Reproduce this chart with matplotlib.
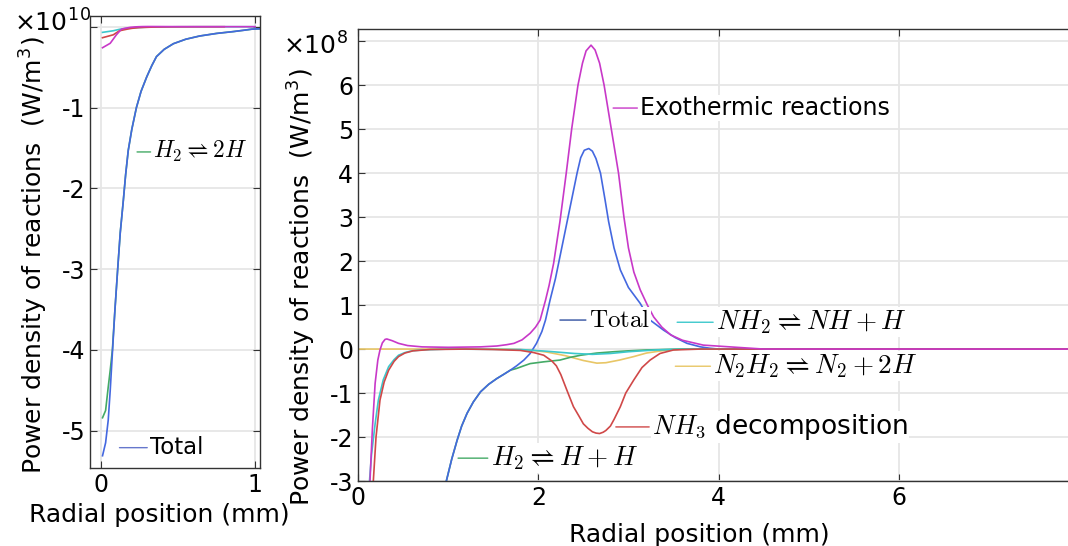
import matplotlib
matplotlib.use('Agg')
import matplotlib.pyplot as plt
import numpy as np

# ---------------------------------------------
# データ (単位: 1e8 W/m^3, x: mm)
# ---------------------------------------------
total_x = [0.01, 0.03, 0.047, 0.06, 0.074, 0.09, 0.108, 0.125, 0.145, 0.16, 0.177, 0.2, 0.23, 0.26,
           0.297, 0.33, 0.36, 0.41, 0.47, 0.55, 0.64, 0.75, 0.86, 0.93, 0.98, 1.04, 1.1, 1.15, 1.21,
           1.28, 1.36, 1.45, 1.54, 1.62, 1.69, 1.76, 1.84, 1.91, 1.98, 2.04, 2.08, 2.13, 2.19, 2.25,
           2.31, 2.37, 2.43, 2.47, 2.51, 2.56, 2.6, 2.64, 2.69, 2.74, 2.78, 2.84, 2.91, 3.0, 3.13,
           3.24, 3.39, 3.52, 3.65, 3.8, 3.9, 4.0, 7.9]
total_y = [-531, -515, -487, -450, -404, -352, -301, -255, -215, -183, -153, -127, -100, -80,
           -62, -48, -37, -28, -21, -15.5, -11.5, -8.3, -6, -4.3, -3, -2.5, -2.07, -1.75, -1.46,
           -1.2, -0.97, -0.8, -0.67, -0.57, -0.48, -0.38, -0.25, -0.1, 0.13, 0.4, 0.66, 1.11, 1.6, 2.2,
           2.8, 3.4, 4.0, 4.35, 4.52, 4.56, 4.5, 4.33, 4.0, 3.4, 2.9, 2.3, 1.8, 1.4, 1.04,
           0.66, 0.43, 0.26, 0.13, 0.05, 0.02, 0.0, 0.0]

h2_x = [0.01, 0.03, 0.047, 0.06, 0.074, 0.09, 0.108, 0.125, 0.145, 0.16, 0.177, 0.2, 0.23, 0.26,
        0.297, 0.33, 0.36, 0.41, 0.47, 0.55, 0.64, 0.75, 0.86, 0.93, 0.98, 1.04, 1.1, 1.15, 1.21,
        1.28, 1.36, 1.45, 1.54, 1.62, 1.69, 1.76, 1.84, 1.91, 2.06, 2.24, 2.35, 2.47, 2.65, 2.84, 3.0,
        3.2, 3.4, 3.6, 7.9]
h2_y = [-484, -475, -446, -425, -400, -352, -301, -255, -215, -183, -153, -127, -100, -80,
        -62, -48, -37, -28, -21, -15.5, -11.5, -8.3, -6, -4.3, -3, -2.5, -2.07, -1.75, -1.46,
        -1.2, -0.97, -0.8, -0.67, -0.57, -0.48, -0.44, -0.38, -0.33, -0.29, -0.25, -0.19, -0.14, -0.09, -0.06, -0.04,
        -0.02, -0.01, 0.0, 0.0]

exo_x = [0.01, 0.06, 0.10, 0.133, 0.16, 0.19, 0.22, 0.244, 0.27, 0.3, 0.32, 0.35, 0.38, 0.45, 0.55,
         0.71, 1.0, 1.36, 1.54, 1.65, 1.73, 1.82, 1.91, 1.97, 2.02, 2.08, 2.12, 2.17, 2.24, 2.31,
         2.37, 2.44, 2.49, 2.53, 2.585, 2.63, 2.68, 2.73, 2.81, 2.89, 2.95, 3.0, 3.06, 3.13, 3.21,
         3.28, 3.37, 3.47, 3.6, 3.83, 4.2, 4.5, 7.9]
exo_y = [-26, -20.5, -10, -3, -1.8, -0.78, -0.25, -0.02, 0.14, 0.22, 0.23, 0.21, 0.19, 0.13, 0.08,
         0.05, 0.04, 0.05, 0.07, 0.1, 0.13, 0.21, 0.36, 0.5, 0.66, 1.11, 1.45, 1.95, 2.9, 4.0,
         5.0, 6.0, 6.5, 6.78, 6.91, 6.8, 6.5, 6.0, 5.0, 4.0, 3.0, 2.3, 1.75, 1.35, 1.0,
         0.73, 0.5, 0.32, 0.2, 0.09, 0.04, 0.0, 0.0]

nh3_x = [0.01, 0.08, 0.12, 0.17, 0.2, 0.244, 0.29, 0.34, 0.4, 0.45, 0.52, 0.61, 0.8, 1.2, 1.5, 1.8,
         1.95, 2.06, 2.15, 2.2, 2.25, 2.32, 2.39, 2.45, 2.5, 2.55, 2.6, 2.64, 2.68, 2.72, 2.75, 2.8,
         2.84, 2.91, 2.97, 3.06, 3.15, 3.24, 3.35, 3.5, 3.8, 7.9]
nh3_y = [-13.6, -10, -5, -3, -2, -1.16, -0.75, -0.48, -0.28, -0.17, -0.09, -0.04, -0.01, 0.0, -0.01, -0.03,
         -0.08, -0.14, -0.27, -0.38, -0.58, -0.95, -1.31, -1.52, -1.7, -1.8, -1.88, -1.91, -1.92, -1.89, -1.85, -1.75,
         -1.6, -1.31, -1.0, -0.7, -0.42, -0.25, -0.1, -0.02, 0.0, 0.0]

nh2_x = [0.01, 0.08, 0.12, 0.15, 0.19, 0.226, 0.28, 0.34, 0.4, 0.45, 0.52, 0.6, 0.71, 1.0, 1.8, 2.1,
         2.4, 2.6, 2.8, 3.0, 3.3, 3.6, 7.9]
nh2_y = [-7, -5, -3.2, -2.4, -1.7, -1.16, -0.7, -0.4, -0.24, -0.14, -0.08, -0.04, -0.02, 0.0, -0.01, -0.05,
         -0.1, -0.12, -0.1, -0.06, -0.02, 0.0, 0.0]

n2h2_x = [0.0, 1.6, 1.9, 2.1, 2.3, 2.5, 2.65, 2.75, 2.9, 3.06, 3.2, 3.4, 3.6, 7.9]
n2h2_y = [0.0, 0.0, -0.02, -0.07, -0.15, -0.26, -0.32, -0.31, -0.25, -0.17, -0.09, -0.03, 0.0, 0.0]

C_TOTAL = '#4468e0'
C_H2 = '#44aa66'
C_EXO = '#c838c8'
C_NH3 = '#d04848'
C_NH2 = '#3cc8cc'
C_N2H2 = '#e8c666'

plt.rcParams['font.family'] = 'DejaVu Sans'
plt.rcParams['mathtext.fontset'] = 'cm'
plt.rcParams['axes.unicode_minus'] = False

fig = plt.figure(figsize=(10.68, 5.46), dpi=100)
ax1 = fig.add_axes([0.0843, 0.1434, 0.1592, 0.8278])
ax2 = fig.add_axes([0.3352, 0.1190, 0.6660, 0.8273])

series = [
    (h2_x, h2_y, C_H2),
    (total_x, total_y, C_TOTAL),
    (nh2_x, nh2_y, C_NH2),
    (nh3_x, nh3_y, C_NH3),
    (n2h2_x, n2h2_y, C_N2H2),
    (exo_x, exo_y, C_EXO),
]

# 左: 1e10 スケール
for xs, ys, c in series:
    xs = np.array(xs)
    ys = np.array(ys) / 100.0
    m = xs <= 1.1
    ax1.plot(xs[m], ys[m], color=c, lw=1.2)

# 右: 1e8 スケール
for xs, ys, c in [series[4], series[0], series[1], series[2], series[3], series[5]]:
    ax2.plot(xs, ys, color=c, lw=1.2)

TICK_FS = 17
LABEL_FS = 18
ylabel = 'Power density of reactions  (W/m$^\\mathregular{3}$)'

ax1.set_xlim(-0.071, 1.032)
ax1.set_ylim(-5.458, 0.136)
ax1.set_xticks([0, 1])
ax1.set_yticks([0, -1, -2, -3, -4, -5])
ax1.set_yticklabels(['', '-1', '-2', '-3', '-4', '-5'])
ax1.set_xlabel('Radial position (mm)', fontsize=LABEL_FS)
ax1.set_ylabel(ylabel, fontsize=LABEL_FS)
ax1.xaxis.set_label_coords(0.41, -0.078)
ax1.yaxis.set_label_coords(-0.24, 0.47)
ax1.text(-0.45, 0.985, '×10$^{\\mathregular{10}}$', transform=ax1.transAxes, fontsize=LABEL_FS,
         ha='left', va='center')

ax2.set_xlim(0, 7.89)
ax2.set_ylim(-3, 7.27)
ax2.set_xticks([0, 2, 4, 6])
ax2.set_yticks(range(-3, 8))
ax2.set_yticklabels([str(v) for v in range(-3, 7)] + [''])
ax2.set_xlabel('Radial position (mm)', fontsize=LABEL_FS)
ax2.set_ylabel(ylabel, fontsize=LABEL_FS)
ax2.xaxis.set_label_coords(0.48, -0.093)
ax2.yaxis.set_label_coords(-0.057, 0.43)
ax2.text(-0.105, 0.965, '×10$^{\\mathregular{8}}$', transform=ax2.transAxes, fontsize=LABEL_FS,
         ha='left', va='center')
ax2.spines['right'].set_visible(False)

for ax in (ax1, ax2):
    ax.grid(True, color='#e6e6e6', lw=1.3)
    ax.set_axisbelow(True)
    ax.tick_params(axis='both', which='both', direction='in', top=True, right=(ax is ax1),
                   labelsize=TICK_FS, length=5, color='#333333')
    for s in ax.spines.values():
        s.set_color('#333333')
        s.set_linewidth(1.0)


def tag(ax, text, xy, xytext, color, fs):
    ax.annotate(text, xy=xy, xytext=xytext, textcoords='data', fontsize=fs,
                ha='left', va='center', color='black',
                bbox=dict(facecolor='white', edgecolor='none', pad=1.0),
                arrowprops=dict(arrowstyle='-', color=color, lw=1.0, shrinkA=1, shrinkB=0))


# 右パネルのラベル
tag(ax2, 'Exothermic reactions', (2.83, 5.48), (3.13, 5.48), C_EXO, 17)
tag(ax2, r'$\mathrm{Total}$', (2.24, 0.66), (2.56, 0.66), '#3050a0', 18)
tag(ax2, r'$NH_2 \rightleftharpoons NH + H$', (3.54, 0.61), (3.97, 0.61), C_NH2, 19.5)
tag(ax2, r'$N_2H_2 \rightleftharpoons N_2 + 2H$', (3.52, -0.39), (3.94, -0.39), C_N2H2, 19.5)
tag(ax2, r'$NH_3$ decomposition', (2.86, -1.77), (3.26, -1.77), C_NH3, 19)
tag(ax2, r'$H_2 \rightleftharpoons H + H$', (1.11, -2.48), (1.47, -2.48), C_H2, 19.5)

# 左パネルのラベル
tag(ax1, r'$H_2 \rightleftharpoons 2H$', (0.234, -1.55), (0.34, -1.55), C_H2, 17)
tag(ax1, 'Total', (0.12, -5.21), (0.318, -5.21), '#6677cc', 16.5)

plt.savefig('out.png', dpi=100)
